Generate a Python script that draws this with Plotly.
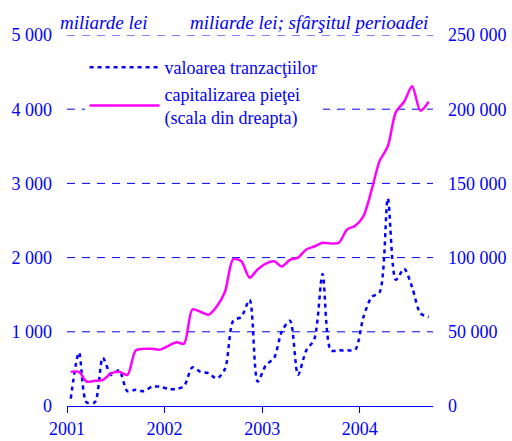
import plotly.graph_objects as go

# Months Jan 2001 .. Sep 2004 (mid-month)
months = [f"{y}-{m:02d}-15" for y in range(2001, 2005) for m in range(1, 13)][:45]

# valoarea tranzactiilor (miliarde lei, left scale)
valoare = [100, 720, 50, 50, 650, 420, 480, 200, 220, 200, 260, 260,
           230, 230, 270, 520, 460, 440, 370, 500, 1150, 1200, 1430, 330,
           550, 650, 1000, 1150, 420, 750, 900, 1780, 750, 750, 750, 760,
           1200, 1470, 1530, 2800, 1700, 1850, 1600, 1250, 1200]

# capitalizarea pietei (miliarde lei, right scale)
capitalizare = [23000, 23000, 16500, 17000, 17500, 22000, 23000, 21000, 37500, 38500, 38500, 38000,
                40500, 43000, 42000, 65000, 63500, 61500, 67000, 77000, 99000, 97500, 86500, 92000,
                96000, 97500, 94000, 98500, 100000, 105500, 107500, 110000, 109500, 110000, 119000, 121500,
                128000, 146000, 165000, 175000, 198000, 205000, 215500, 199000, 205000]

year_ticks = ["2001-01-01", "2002-01-01", "2003-01-01", "2004-01-01"]
year_labels = ["2001", "2002", "2003", "2004"]
left_ticks = [0, 1000, 2000, 3000, 4000, 5000]
left_labels = ["0", "1 000", "2 000", "3 000", "4 000", "5 000"]
right_ticks = [0, 50000, 100000, 150000, 200000, 250000]
right_labels = ["0", "50 000", "100 000", "150 000", "200 000", "250 000"]

BLUE = "rgb(0,0,255)"
MAG = "rgb(255,0,255)"
FONT = "Liberation Serif, Times New Roman, serif"

fig = go.Figure()
fig.add_trace(go.Scatter(x=months, y=valoare, mode="lines", name="valoarea tranzacţiilor",
                         line=dict(color=BLUE, width=2.5, dash="4px,4px", shape="spline", smoothing=0.8),
                         yaxis="y"))
fig.add_trace(go.Scatter(x=months, y=capitalizare, mode="lines",
                         name="capitalizarea pieţei<br>(scala din dreapta)",
                         line=dict(color=MAG, width=2.5, shape="spline", smoothing=0.8),
                         yaxis="y2"))

# dashed horizontal gridlines at the left-axis tick values
for v in left_ticks[1:]:
    fig.add_shape(type="line", xref="paper", yref="y", x0=0, x1=1, y0=v, y1=v,
                  line=dict(color=BLUE, width=1, dash="8px,7px"), layer="below")

fig.update_layout(
    width=512, height=441,
    margin=dict(l=67, r=79, t=35, b=35),
    paper_bgcolor="white", plot_bgcolor="white",
    font=dict(family=FONT, size=18, color=BLUE),
    showlegend=True,
    legend=dict(x=0.048, y=0.962, xanchor="left", yanchor="top",
                bgcolor="white", borderwidth=0,
                font=dict(family=FONT, size=18, color=BLUE),
                itemwidth=70, tracegroupgap=0),
    xaxis=dict(type="date", range=["2001-01-01", "2004-10-01"],
               tickvals=year_ticks, ticktext=year_labels,
               showgrid=False, zeroline=False, automargin=False,
               showline=True, linecolor=BLUE, linewidth=1,
               ticks="outside", ticklen=6, tickcolor=BLUE, tickwidth=1,
               tickfont=dict(family=FONT, size=18, color=BLUE)),
    yaxis=dict(range=[0, 5000], tickvals=left_ticks, ticktext=left_labels,
               showgrid=False, zeroline=False, showline=False, ticks="", automargin=False,
               ticklabelstandoff=14,
               tickfont=dict(family=FONT, size=18, color=BLUE)),
    yaxis2=dict(range=[0, 250000], overlaying="y", side="right",
                tickvals=right_ticks, ticktext=right_labels,
                showgrid=False, zeroline=False, showline=False, ticks="", automargin=False,
                ticklabelstandoff=14,
                tickfont=dict(family=FONT, size=18, color=BLUE)),
    annotations=[
        dict(text="<i>miliarde lei</i>", xref="paper", yref="paper", x=-0.025, y=1.0,
             xanchor="left", yanchor="bottom", showarrow=False,
             font=dict(family=FONT, size=19, color=BLUE)),
        dict(text="<i>miliarde lei; sfârşitul perioadei</i>", xref="paper", yref="paper", x=0.992, y=1.0,
             xanchor="right", yanchor="bottom", showarrow=False,
             font=dict(family=FONT, size=19, color=BLUE)),
    ],
)

fig.write_html("out.html", config={"displayModeBar": False},
               post_script="document.body.style.margin='0';document.body.style.overflow='hidden';")
